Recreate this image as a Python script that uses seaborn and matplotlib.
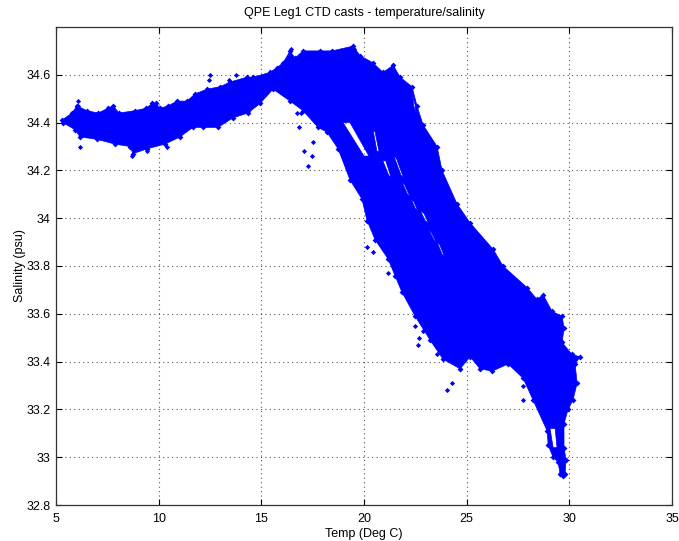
import matplotlib
matplotlib.use("Agg")
import matplotlib.pyplot as plt
from matplotlib.path import Path
from matplotlib.patches import PathPatch
import numpy as np
import pandas as pd
import seaborn as sns

# outline of the dense cloud of casts (Temp, Salinity)
outline_temp = [5.29,5.78,6.02,6.51,7.05,7.53,7.78,8.07,8.85,9.38,9.68,9.87,10.07,10.46,10.89,11.38,11.77,12.36,
                12.99,13.48,14.30,14.60,15.42,15.76,16.06,16.40,16.64,17.03,17.86,18.44,19.47,19.81,20.44,20.93,
                21.42,21.76,22.34,22.58,22.88,23.56,23.80,24.53,25.17,26.29,26.77,27.94,28.43,28.72,29.16,29.65,
                29.74,29.65,30.13,30.52,30.28,30.38,30.18,29.94,29.74,29.74,29.84,29.79,29.70,29.55,29.45,29.21,
                28.97,28.92,28.23,27.75,27.02,26.24,25.65,25.17,24.68,23.85,23.22,22.49,21.85,21.51,21.17,20.54,
                20.15,19.90,19.32,18.74,18.20,17.76,17.03,16.40,15.57,14.94,14.35,13.62,12.89,12.16,11.67,11.04,
                10.31,9.43,8.75,8.60,7.87,7.00,6.17,5.93,5.34]
outline_sal = [34.41,34.44,34.47,34.45,34.44,34.46,34.47,34.44,34.45,34.46,34.48,34.48,34.46,34.47,34.49,34.49,34.52,34.54,
               34.55,34.57,34.59,34.59,34.61,34.63,34.65,34.70,34.67,34.70,34.70,34.70,34.72,34.68,34.65,34.61,
               34.64,34.59,34.55,34.47,34.39,34.30,34.20,34.06,33.98,33.87,33.80,33.71,33.66,33.68,33.61,33.59,
               33.54,33.48,33.43,33.42,33.39,33.31,33.24,33.20,33.14,33.04,32.99,32.93,32.92,32.93,32.98,33.00,
               33.05,33.11,33.24,33.33,33.39,33.36,33.37,33.42,33.37,33.41,33.49,33.59,33.69,33.76,33.83,33.91,
               33.99,34.08,34.16,34.29,34.36,34.38,34.45,34.49,34.54,34.48,34.44,34.42,34.38,34.38,34.38,34.34,
               34.31,34.29,34.27,34.30,34.31,34.33,34.34,34.37,34.40]

# gaps inside the cloud
gap_temps = [[18.98,19.32,20.24,20.00],
             [20.44,20.54,20.73,20.63],
             [20.92,21.06,21.32,21.20],
             [21.46,21.58,21.92,21.80],
             [21.86,21.98,22.24,22.12],
             [22.30,22.42,22.62,22.50],
             [22.75,22.92,23.14,22.98],
             [23.16,23.28,23.52,23.40],
             [23.56,23.68,23.92,23.80],
             [22.35,22.50,22.55,22.42],
             [29.06,29.31,29.40,29.21]]
gap_sals = [[34.40,34.40,34.26,34.26],
            [34.37,34.36,34.28,34.28],
            [34.24,34.24,34.17,34.18],
            [34.26,34.25,34.17,34.18],
            [34.15,34.14,34.09,34.10],
            [34.08,34.07,34.03,34.04],
            [34.03,34.02,33.98,33.99],
            [33.95,33.94,33.90,33.91],
            [33.90,33.89,33.84,33.85],
            [34.52,34.47,34.44,34.47],
            [33.12,33.12,33.04,33.04]]

# isolated and fringe samples
stray_temp = [16.84,17.52,17.08,17.47,17.27,16.74,16.93,22.63,22.68,24.29,24.04,27.75,27.75,6.17,6.07,6.07,
              12.50,12.45,13.77,13.43,8.70,9.43,10.41,14.35,20.15,20.44,22.49,22.88,23.56,24.68,21.17,16.45,19.52]
stray_sal = [34.38,34.32,34.28,34.26,34.22,34.44,34.44,33.47,33.50,33.31,33.28,33.30,33.24,34.30,34.49,34.47,
             34.60,34.58,34.60,34.58,34.26,34.28,34.30,34.45,33.88,33.86,33.55,33.53,33.43,33.37,33.77,34.71,34.71]

title = "QPE Leg1 CTD casts - temperature/salinity"
xlabel = "Temp (Deg C)"
ylabel = "Salinity (psu)"
xticks = [5, 10, 15, 20, 25, 30, 35]
yticks = [32.8, 33, 33.2, 33.4, 33.6, 33.8, 34, 34.2, 34.4, 34.6]
ytick_labels = ["32.8", "33", "33.2", "33.4", "33.6", "33.8", "34", "34.2", "34.4", "34.6"]

sns.set_theme(style="white")
plt.rcParams["font.family"] = ["Liberation Sans", "DejaVu Sans"]

fig = plt.figure(figsize=(6.79, 5.41), dpi=100)
ax = fig.add_axes([56/679, 36/541, 616/679, 478/541])
BLUE = "#0000ff"

outline = np.column_stack([outline_temp, outline_sal])
paths = [Path(np.vstack([outline, outline[:1]]), closed=True)]
for gt, gs in zip(gap_temps, gap_sals):
    ring = np.column_stack([gt, gs])[::-1]
    # opposite winding to the outline so the gap stays empty
    paths.append(Path(np.vstack([ring, ring[:1]]), closed=True))
ax.add_patch(PathPatch(Path.make_compound_path(*paths), facecolor=BLUE, edgecolor=BLUE, lw=0.5, zorder=3))

edge = pd.DataFrame({"temp": outline_temp, "sal": outline_sal})
sns.scatterplot(data=edge, x="temp", y="sal", ax=ax, color=BLUE, s=9, marker="D", linewidth=0, zorder=4)
stray = pd.DataFrame({"temp": stray_temp, "sal": stray_sal})
sns.scatterplot(data=stray, x="temp", y="sal", ax=ax, color=BLUE, s=7, marker="D", linewidth=0, zorder=4)

ax.set_xlim(5, 35)
ax.set_ylim(32.8, 34.8)
ax.set_xticks(xticks)
ax.set_yticks(yticks)
ax.set_yticklabels(ytick_labels)
ax.grid(True, color="#555555", linestyle=(0, (1, 3)), linewidth=0.8)
ax.set_axisbelow(True)
ax.tick_params(direction="in", length=4, width=0.8, labelsize=9, colors="black",
               top=True, right=True, bottom=True, left=True)
ax.tick_params(axis="x", pad=6)
ax.tick_params(axis="y", pad=4)
for s in ax.spines.values():
    s.set_color("#333333")
    s.set_linewidth(0.9)
ax.set_title(title, fontsize=9, color="black", pad=8)
ax.set_xlabel(xlabel, fontsize=9, color="black", labelpad=2)
ax.set_ylabel(ylabel, fontsize=9, color="black", labelpad=0)
fig.savefig("out.png", dpi=100)
